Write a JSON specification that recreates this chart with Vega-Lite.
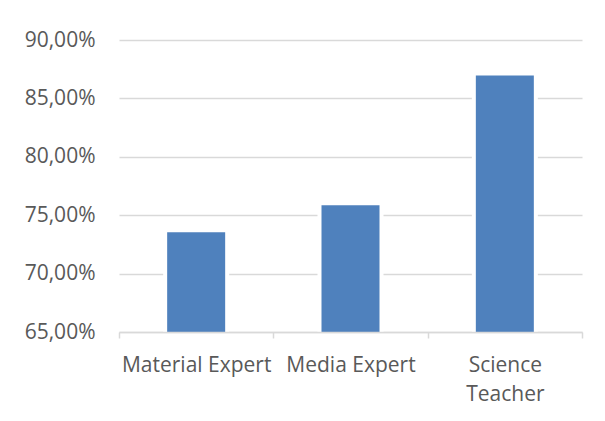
{
  "$schema": "https://vega.github.io/schema/vega-lite/v6.json",
  "autosize": {"type": "none"},
  "padding": {"left": 119, "top": 40, "right": 23, "bottom": 89},
  "width": 463,
  "height": 292,
  "background": "white",
  "data": {"values": [
    {"category": "Material Expert", "value": 0.7355},
    {"category": "Media Expert", "value": 0.7585},
    {"category": "Science Teacher", "value": 0.8697}
  ]},
  "encoding": {
    "x": {
      "field": "category", "type": "nominal", "sort": null,
      "scale": {"paddingInner": 0, "paddingOuter": 0},
      "axis": {
        "title": null, "labelAngle": 0, "zindex": 1,
        "labelFont": "Open Sans", "labelFontSize": 21, "labelColor": "#595959",
        "labelPadding": 16, "labelLineHeight": 29,
        "labelExpr": "datum.label == 'Science Teacher' ? ['Science', 'Teacher'] : datum.label",
        "domainColor": "#d9d9d9", "domainWidth": 1.5,
        "tickColor": "#d9d9d9", "tickWidth": 1.5, "tickSize": 6,
        "tickBand": "extent", "grid": false
      }
    },
    "y": {
      "field": "value", "type": "quantitative",
      "scale": {"domain": [0.65, 0.9], "zero": false, "nice": false},
      "axis": {
        "title": null, "values": [0.65, 0.7, 0.75, 0.8, 0.85, 0.9],
        "labelExpr": "replace(format(datum.value, '.2%'), '.', ',')",
        "labelFont": "Open Sans", "labelFontSize": 21, "labelColor": "#595959",
        "labelPadding": 24, "domain": false, "ticks": false,
        "grid": true, "gridColor": "#d9d9d9", "gridWidth": 1.5
      }
    }
  },
  "layer": [
    {"mark": {"type": "bar", "size": 66, "color": "white", "clip": true}},
    {"mark": {"type": "bar", "size": 58, "color": "#4f81bd", "clip": true}}
  ],
  "config": {"view": {"stroke": null}}
}
